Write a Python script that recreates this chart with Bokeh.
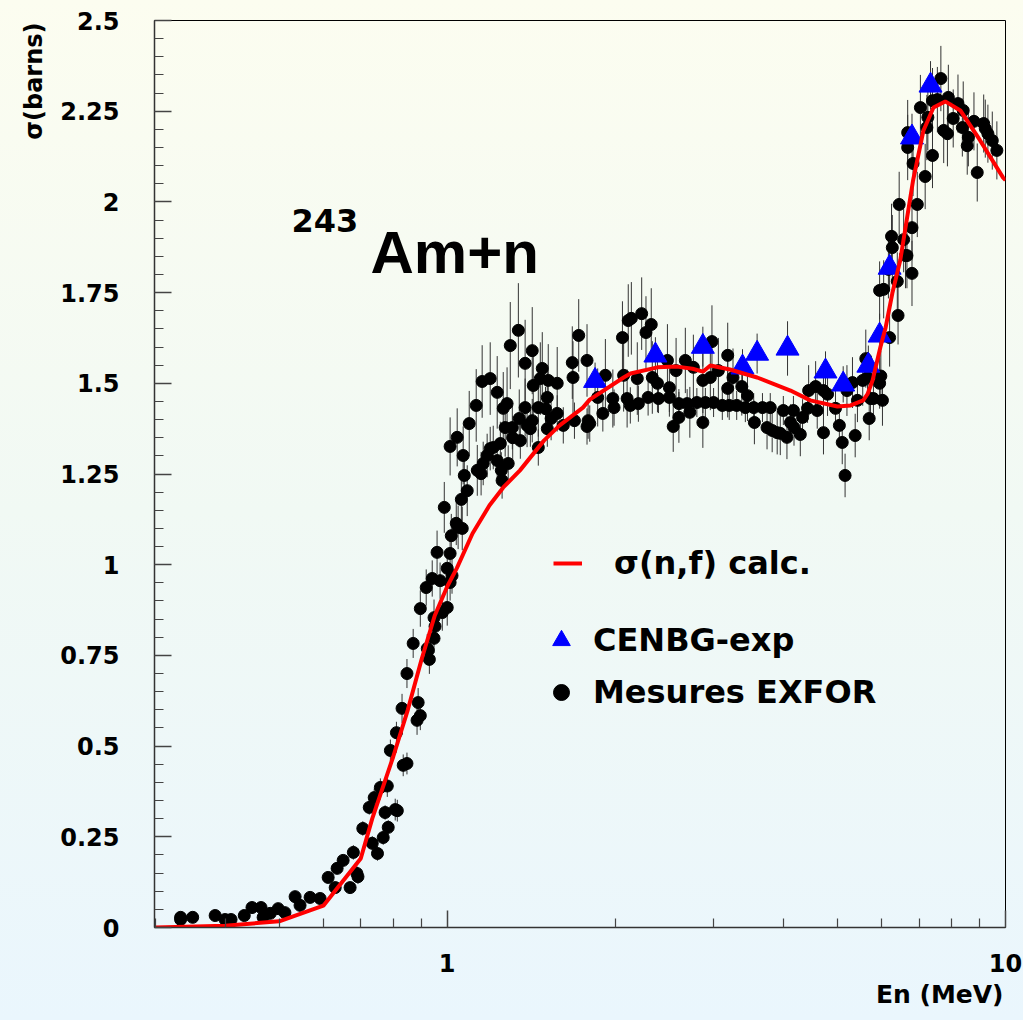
import math
from bokeh.plotting import figure
from bokeh.models import (ColumnDataSource, Range1d, FixedTicker, NumeralTickFormatter,
                          Label, Legend, LegendItem, Title)
from bokeh.embed import file_html
from bokeh.resources import INLINE

# ---------------- data ----------------
# calculated sigma(n,f) curve
calc_x = [0.3, 0.4, 0.5, 0.6, 0.7, 0.734, 0.8, 0.85, 0.9, 0.95, 1.0, 1.04, 1.11, 1.19, 1.26,
          1.35, 1.49, 1.59, 1.75, 1.8, 2.07, 2.13, 2.38, 2.58, 2.75, 2.87, 2.96, 3.21, 3.59,
          4.12, 4.47, 5.0, 5.28, 5.56, 5.66, 5.78, 5.97, 6.1, 6.27, 6.48, 6.83, 7.13, 7.43,
          7.8, 8.3, 9.0, 9.9, 10.0]
calc_y = [0.0, 0.005, 0.017, 0.06, 0.19, 0.30, 0.47, 0.60, 0.74, 0.86, 0.94, 0.99, 1.086,
          1.163, 1.213, 1.26, 1.342, 1.384, 1.433, 1.455, 1.516, 1.527, 1.544, 1.546, 1.54,
          1.532, 1.549, 1.538, 1.516, 1.48, 1.453, 1.436, 1.439, 1.453, 1.47, 1.508, 1.6,
          1.654, 1.748, 1.84, 2.059, 2.197, 2.26, 2.277, 2.252, 2.17, 2.067, 2.06]

# CENBG experiment
cenbg_x = [1.84, 2.36, 2.87, 3.38, 3.59, 4.07, 4.76, 5.12, 5.68, 5.95, 6.2, 6.8, 7.34]
cenbg_y = [1.507, 1.577, 1.601, 1.544, 1.582, 1.596, 1.533, 1.497, 1.549, 1.632, 1.819,
           2.178, 2.321]
cenbg_dy = [0.05, 0.05, 0.055, 0.05, 0.055, 0.075, 0.055, 0.05, 0.055, 0.06, 0.065, 0.065, 0.067]

# EXFOR measurements
exfor_x = [0.333, 0.333, 0.350, 0.384, 0.400, 0.410, 0.433, 0.447, 0.464, 0.468, 0.482, 0.498,
           0.512, 0.534, 0.545, 0.568, 0.592, 0.612, 0.630, 0.635, 0.651, 0.670, 0.679, 0.689,
           0.692, 0.706, 0.725, 0.734, 0.740, 0.750, 0.759, 0.768, 0.774, 0.781, 0.784, 0.791,
           0.807, 0.811, 0.814, 0.830, 0.834, 0.847, 0.847, 0.869, 0.883, 0.887, 0.895, 0.895,
           0.917, 0.921, 0.925, 0.929, 0.940, 0.947, 0.947, 0.951, 0.959, 0.971, 0.980, 0.988,
           1.000, 1.000, 1.012, 1.012, 1.012, 1.017, 1.020, 1.038, 1.042, 1.046, 1.060, 1.064,
           1.068, 1.073, 1.086, 1.095, 1.127, 1.132, 1.150, 1.155, 1.160, 1.179, 1.194, 1.194,
           1.209, 1.229, 1.229, 1.245, 1.250, 1.254, 1.260, 1.270, 1.280, 1.286, 1.297, 1.308,
           1.310, 1.341, 1.346, 1.352, 1.379, 1.379, 1.390, 1.409, 1.420, 1.420, 1.426, 1.456,
           1.456, 1.468, 1.480, 1.500, 1.511, 1.511, 1.517, 1.535, 1.574, 1.574, 1.614, 1.675,
           1.680, 1.690, 1.720, 1.780, 1.780, 1.788, 1.800, 1.860, 1.900, 1.920, 1.980, 1.990,
           2.060, 2.070, 2.100, 2.110, 2.128, 2.137, 2.190, 2.200, 2.230, 2.270, 2.290, 2.320,
           2.330, 2.380, 2.390, 2.480, 2.500, 2.500, 2.540, 2.570, 2.600, 2.600, 2.670, 2.690,
           2.720, 2.760, 2.800, 2.870, 2.870, 2.900, 2.960, 2.980, 3.000, 3.060, 3.110, 3.180,
           3.180, 3.200, 3.250, 3.300, 3.370, 3.420, 3.450, 3.540, 3.550, 3.670, 3.740, 3.790,
           3.820, 3.900, 3.950, 4.000, 4.060, 4.120, 4.170, 4.180, 4.290, 4.330, 4.420, 4.440,
           4.570, 4.600, 4.720, 4.720, 4.800, 4.960, 5.040, 5.100, 5.160, 5.200, 5.320, 5.380,
           5.430, 5.550, 5.620, 5.660, 5.700, 5.730, 5.800, 5.950, 5.950, 5.980, 6.020, 6.050,
           6.170, 6.200, 6.250, 6.270, 6.400, 6.420, 6.450, 6.570, 6.620, 6.660, 6.680, 6.680,
           6.800, 6.800, 6.830, 6.950, 7.040, 7.180, 7.230, 7.260, 7.400, 7.400, 7.550, 7.660,
           7.750, 7.870, 7.900, 8.060, 8.220, 8.370, 8.400, 8.540, 8.580, 8.780, 8.900, 9.140,
           9.200, 9.300, 9.470, 9.650]
exfor_y = [0.028, 0.022, 0.028, 0.033, 0.022, 0.022, 0.033, 0.055, 0.055, 0.028, 0.039, 0.052,
           0.041, 0.085, 0.061, 0.083, 0.080, 0.138, 0.110, 0.163, 0.185, 0.110, 0.207, 0.149,
           0.140, 0.273, 0.331, 0.232, 0.358, 0.204, 0.386, 0.248, 0.317, 0.390, 0.276, 0.488,
           0.325, 0.537, 0.322, 0.604, 0.447, 0.452, 0.700, 0.783, 0.571, 0.620, 0.879, 0.584,
           0.937, 0.769, 0.764, 0.739, 0.962, 0.797, 0.854, 0.830, 1.034, 0.956, 0.868, 1.158,
           0.990, 0.882, 0.951, 1.031, 1.326, 1.080, 0.970, 1.114, 1.351, 1.103, 1.180, 1.100,
           1.301, 1.246, 1.204, 1.389, 1.439, 1.260, 1.251, 1.505, 1.279, 1.301, 1.320, 1.513,
           1.323, 1.287, 1.475, 1.334, 1.260, 1.232, 1.431, 1.378, 1.444, 1.279, 1.604, 1.378,
           1.350, 1.646, 1.403, 1.342, 1.555, 1.433, 1.384, 1.375, 1.590, 1.397, 1.494, 1.433,
           1.323, 1.513, 1.541, 1.430, 1.461, 1.375, 1.508, 1.403, 1.500, 1.417, 1.384, 1.557,
           1.516, 1.397, 1.632, 1.563, 1.381, 1.397, 1.389, 1.461, 1.417, 1.522, 1.458, 1.433,
           1.626, 1.522, 1.458, 1.673, 1.439, 1.679, 1.513, 1.444, 1.692, 1.640, 1.461, 1.662,
           1.516, 1.500, 1.458, 1.563, 1.488, 1.461, 1.381, 1.535, 1.444, 1.406, 1.563, 1.444,
           1.420, 1.544, 1.447, 1.392, 1.508, 1.447, 1.516, 1.615, 1.447, 1.535, 1.439, 1.577,
           1.486, 1.439, 1.516, 1.439, 1.491, 1.433, 1.466, 1.433, 1.392, 1.433, 1.378, 1.433,
           1.370, 1.364, 1.362, 1.425, 1.351, 1.392, 1.425, 1.378, 1.359, 1.406, 1.431, 1.480,
           1.491, 1.425, 1.364, 1.480, 1.470, 1.431, 1.384, 1.337, 1.246, 1.480, 1.502, 1.356,
           1.453, 1.508, 1.568, 1.516, 1.403, 1.458, 1.458, 1.500, 1.756, 1.520, 1.453, 1.759,
           1.814, 1.626, 1.905, 1.874, 1.781, 1.687, 1.993, 1.896, 1.852, 1.852, 2.150, 2.191,
           1.803, 1.929, 2.106, 1.993, 2.260, 2.070, 2.205, 2.233, 2.128, 2.279, 2.282, 2.340,
           2.197, 2.188, 2.288, 2.230, 2.271, 2.205, 2.252, 2.155, 2.178, 2.222, 2.081, 2.216,
           2.202, 2.188, 2.169, 2.142]
exfor_dy = [0.01, 0.01, 0.01, 0.01, 0.01, 0.01, 0.01, 0.01, 0.01, 0.01, 0.01, 0.01,
            0.01, 0.01, 0.01, 0.01, 0.01, 0.015, 0.015, 0.015, 0.015, 0.015, 0.02, 0.02,
            0.02, 0.02, 0.02, 0.02, 0.025, 0.02, 0.025, 0.02, 0.02, 0.03, 0.02, 0.03,
            0.03, 0.03, 0.03, 0.04, 0.03, 0.03, 0.04, 0.04, 0.04, 0.04, 0.05, 0.04,
            0.05, 0.04, 0.04, 0.04, 0.05, 0.04, 0.05, 0.04, 0.06, 0.05, 0.05, 0.07,
            0.05, 0.05, 0.05, 0.06, 0.08, 0.06, 0.05, 0.06, 0.08, 0.06, 0.07, 0.06,
            0.08, 0.07, 0.07, 0.09, 0.10, 0.07, 0.06, 0.10, 0.06, 0.06, 0.06, 0.10,
            0.06, 0.05, 0.10, 0.06, 0.05, 0.05, 0.10, 0.08, 0.10, 0.05, 0.12, 0.06,
            0.06, 0.13, 0.08, 0.05, 0.12, 0.08, 0.06, 0.05, 0.12, 0.06, 0.10, 0.08,
            0.05, 0.10, 0.10, 0.06, 0.08, 0.05, 0.10, 0.06, 0.10, 0.05, 0.05, 0.10,
            0.10, 0.05, 0.10, 0.10, 0.05, 0.05, 0.05, 0.08, 0.05, 0.10, 0.08, 0.05,
            0.10, 0.10, 0.08, 0.10, 0.05, 0.10, 0.10, 0.05, 0.10, 0.10, 0.05, 0.10,
            0.10, 0.08, 0.04, 0.10, 0.08, 0.04, 0.07, 0.09, 0.04, 0.07, 0.09, 0.04,
            0.07, 0.09, 0.04, 0.07, 0.09, 0.04, 0.09, 0.10, 0.04, 0.09, 0.04, 0.09,
            0.08, 0.04, 0.08, 0.04, 0.08, 0.04, 0.07, 0.04, 0.06, 0.04, 0.06, 0.04,
            0.06, 0.06, 0.06, 0.04, 0.06, 0.05, 0.04, 0.05, 0.06, 0.05, 0.04, 0.07,
            0.07, 0.05, 0.06, 0.07, 0.06, 0.05, 0.06, 0.06, 0.06, 0.07, 0.07, 0.06,
            0.06, 0.07, 0.08, 0.07, 0.06, 0.06, 0.06, 0.07, 0.08, 0.07, 0.07, 0.08,
            0.08, 0.08, 0.09, 0.09, 0.08, 0.08, 0.09, 0.09, 0.09, 0.09, 0.09, 0.09,
            0.09, 0.09, 0.09, 0.09, 0.09, 0.09, 0.09, 0.09, 0.09, 0.09, 0.09, 0.09,
            0.09, 0.09, 0.09, 0.08, 0.08, 0.08, 0.08, 0.08, 0.08, 0.08, 0.08, 0.08,
            0.08, 0.08, 0.08, 0.08]

# axis ticks and labels
x_major_ticks = [1, 10]
x_minor_ticks = [0.3, 0.4, 0.5, 0.6, 0.7, 0.8, 0.9, 2, 3, 4, 5, 6, 7, 8, 9]
y_major_ticks = [0, 0.25, 0.5, 0.75, 1.0, 1.25, 1.5, 1.75, 2.0, 2.25, 2.5]
y_minor_ticks = [round(0.05 * i, 2) for i in range(1, 50)]

x_title = "En (MeV)"
y_title = "σ(barns)"
label_calc = "σ(n,f) calc."
label_cenbg = "CENBG-exp"
label_exfor = "Mesures EXFOR"

# ---------------- figure ----------------
BOLD_FONT = "DejaVu Sans"

p = figure(frame_width=851, frame_height=907, x_axis_type="log",
           x_range=Range1d(0.299, 10.0), y_range=Range1d(0.0, 2.5),
           output_backend="svg", toolbar_location=None,
           min_border_left=154, min_border_right=18, min_border_top=20, min_border_bottom=93,
           styles={"background": "linear-gradient(to bottom, #fcfdf0 0%, #f1f9f4 50%, #eaf6fd 100%)"})
p.border_fill_color = None
p.background_fill_color = None
p.outline_line_color = "black"
p.outline_line_width = 1
p.xgrid.grid_line_color = None
p.ygrid.grid_line_color = None

p.xaxis.ticker = FixedTicker(ticks=x_major_ticks, minor_ticks=x_minor_ticks)
p.xaxis.formatter = NumeralTickFormatter(format="0")
p.yaxis.ticker = FixedTicker(ticks=y_major_ticks, minor_ticks=y_minor_ticks)
p.yaxis.formatter = NumeralTickFormatter(format="0.[00]")

for ax in (p.xaxis[0], p.yaxis[0]):
    ax.major_tick_in = 17
    ax.major_tick_out = 0
    ax.minor_tick_in = 9
    ax.minor_tick_out = 0
    ax.axis_line_color = "#333333"
    ax.axis_line_width = 1.5
    ax.major_tick_line_color = "#444444"
    ax.major_tick_line_width = 1.5
    ax.minor_tick_line_color = "#444444"
    ax.minor_tick_line_width = 1.2
    ax.major_label_text_font = BOLD_FONT
    ax.major_label_text_font_style = "bold"
    ax.major_label_text_font_size = "24px"
    ax.major_label_text_color = "black"
p.yaxis.major_label_standoff = 35
p.xaxis.major_label_standoff = 26

# axis titles in the side panels, aligned to the far end of each axis
p.add_layout(Title(text=y_title, align="right", offset=2, standoff=20,
                   text_font=BOLD_FONT, text_font_style="bold", text_font_size="24px",
                   text_color="black"), "left")
p.add_layout(Title(text=x_title, align="right", vertical_align="middle", offset=2, standoff=9,
                   text_font=BOLD_FONT, text_font_style="bold", text_font_size="25px",
                   text_color="black"), "below")

# ---------------- glyphs ----------------
ex_src = ColumnDataSource(dict(
    x=exfor_x, y=exfor_y,
    lo=[a - b for a, b in zip(exfor_y, exfor_dy)],
    hi=[a + b for a, b in zip(exfor_y, exfor_dy)]))
ce_src = ColumnDataSource(dict(
    x=cenbg_x, y=cenbg_y,
    lo=[a - b for a, b in zip(cenbg_y, cenbg_dy)],
    hi=[a + b for a, b in zip(cenbg_y, cenbg_dy)]))
calc_src = ColumnDataSource(dict(x=calc_x, y=calc_y))

p.segment(x0="x", y0="lo", x1="x", y1="hi", source=ex_src, line_color="#333333", line_width=1)
p.segment(x0="x", y0="lo", x1="x", y1="hi", source=ce_src, line_color="#333333", line_width=1)
r_ex = p.scatter("x", "y", source=ex_src, marker="circle", size=12,
                 fill_color="black", line_color="black")
r_ce = p.scatter("x", "y", source=ce_src, marker="triangle", size=23,
                 fill_color="#0000ff", line_color="#0000ff")
r_calc = p.line("x", "y", source=calc_src, line_color="#ff0000", line_width=4)

# ---------------- legends ----------------
def make_legend(label, renderer, loc, gw, standoff):
    return Legend(items=[LegendItem(label=label, renderers=[renderer])],
                  location=loc, glyph_width=gw, glyph_height=44, label_height=44,
                  label_standoff=standoff, padding=0, margin=0, spacing=0,
                  border_line_alpha=0, background_fill_alpha=0,
                  label_text_font=BOLD_FONT, label_text_font_style="bold",
                  label_text_font_size="32px", label_text_color="black")

p.add_layout(make_legend(label_calc, r_calc, (399, 342), 29, 32))
p.add_layout(make_legend(label_cenbg, r_ce, (385, 265), 44, 10))
p.add_layout(make_legend(label_exfor, r_ex, (387, 213), 40, 12))

# ---------------- plot label ----------------
p.add_layout(Label(x=216, y=675, x_units="screen", y_units="screen", text="Am+n",
                   text_font="Liberation Sans", text_font_style="bold",
                   text_font_size="60px", text_baseline="middle", text_align="left",
                   text_color="black"))
p.add_layout(Label(x=137, y=707, x_units="screen", y_units="screen", text="243",
                   text_font=BOLD_FONT, text_font_style="bold",
                   text_font_size="32px", text_baseline="middle", text_align="left",
                   text_color="black"))

open("out.html", "w").write(file_html(p, INLINE))
